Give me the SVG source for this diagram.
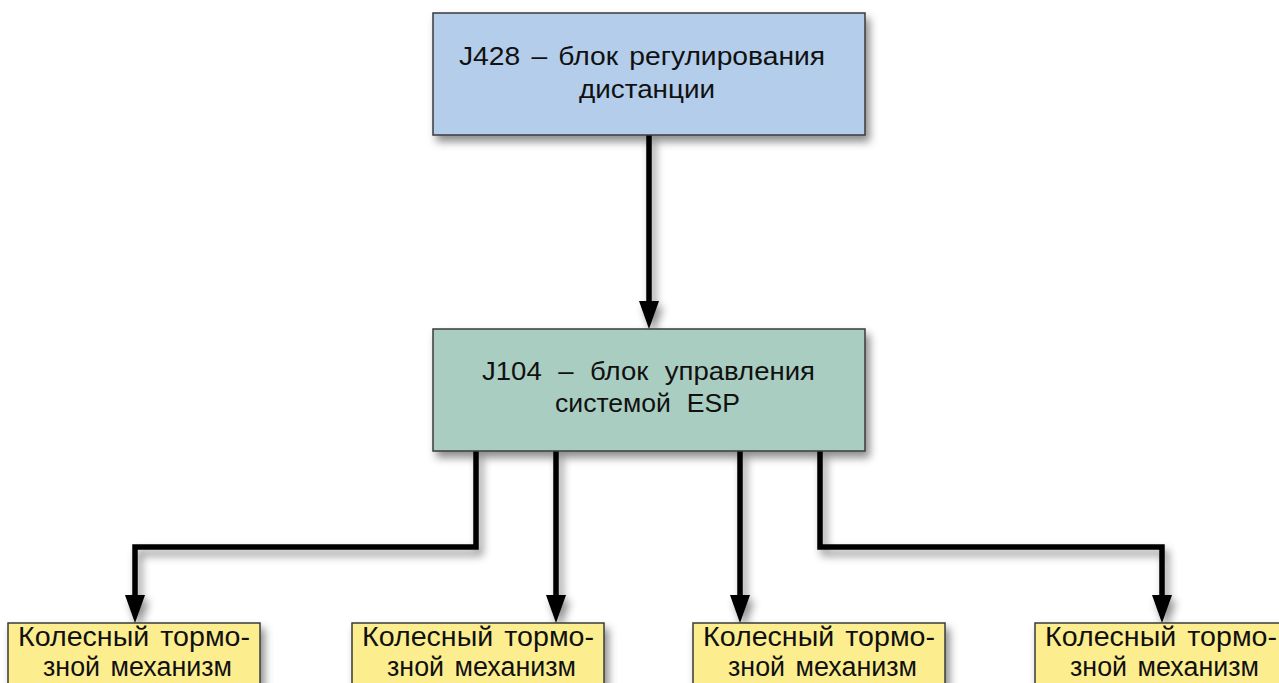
<svg xmlns="http://www.w3.org/2000/svg" width="1279" height="683" viewBox="0 0 1279 683">
<style>
.box{stroke:#3a3a3a;stroke-width:1.5}
.t{font-family:"Liberation Sans",Arial,sans-serif;fill:#111;word-spacing:3px}
.m{font-size:25px}
.b{font-size:27px}
.c{fill:none;stroke:#000;stroke-width:5.5;stroke-linejoin:miter}
</style>
<defs>
<filter id="sh" x="-10%" y="-10%" width="130%" height="140%">
<feDropShadow dx="4" dy="6" stdDeviation="4" flood-color="#000" flood-opacity="0.45"/>
</filter>
<marker id="ah" viewBox="0 0 28 20" refX="8" refY="10" markerWidth="28" markerHeight="20" markerUnits="userSpaceOnUse" orient="auto">
<path d="M0,0 L28,10 L0,20 z" fill="#000"/>
</marker>
</defs>
<rect width="1279" height="683" fill="#fff"/>
<g id="connectors" filter="url(#sh)">
<path class="c" d="M649,135 V309" marker-end="url(#ah)"/>
<path class="c" d="M476,451 V547 H135 V603" marker-end="url(#ah)"/>
<path class="c" d="M556,451 V603" marker-end="url(#ah)"/>
<path class="c" d="M740,451 V603" marker-end="url(#ah)"/>
<path class="c" d="M820,451 V547 H1162 V603" marker-end="url(#ah)"/>
</g>
<g id="j428">
<rect class="box" x="433" y="13" width="432" height="122" fill="#b3cdea" filter="url(#sh)"/>
<text class="t m" x="459" y="65" textLength="366" lengthAdjust="spacingAndGlyphs">J428 – блок регулирования</text>
<text class="t m" x="579" y="98" textLength="136" lengthAdjust="spacingAndGlyphs">дистанции</text>
</g>
<g id="j104">
<rect class="box" x="433" y="329" width="432" height="122" fill="#aacdc2" filter="url(#sh)"/>
<text class="t m" x="482" y="380" textLength="333" lengthAdjust="spacingAndGlyphs" style="word-spacing:8px">J104 – блок управления</text>
<text class="t m" x="555" y="412" textLength="185" lengthAdjust="spacingAndGlyphs" style="word-spacing:8px">системой ESP</text>
</g>
<g id="brake1">
<rect class="box" x="8" y="623" width="252" height="70" fill="#fcee8f" filter="url(#sh)"/>
<text class="t b" x="18" y="646" textLength="232" lengthAdjust="spacingAndGlyphs">Колесный тормо-</text>
<text class="t b" x="43" y="676" textLength="189" lengthAdjust="spacingAndGlyphs">зной механизм</text>
</g>
<g id="brake2">
<rect class="box" x="352" y="623" width="252" height="70" fill="#fcee8f" filter="url(#sh)"/>
<text class="t b" x="362" y="646" textLength="232" lengthAdjust="spacingAndGlyphs">Колесный тормо-</text>
<text class="t b" x="387" y="676" textLength="189" lengthAdjust="spacingAndGlyphs">зной механизм</text>
</g>
<g id="brake3">
<rect class="box" x="693" y="623" width="252" height="70" fill="#fcee8f" filter="url(#sh)"/>
<text class="t b" x="703" y="646" textLength="232" lengthAdjust="spacingAndGlyphs">Колесный тормо-</text>
<text class="t b" x="728" y="676" textLength="189" lengthAdjust="spacingAndGlyphs">зной механизм</text>
</g>
<g id="brake4">
<rect class="box" x="1035" y="623" width="252" height="70" fill="#fcee8f" filter="url(#sh)"/>
<text class="t b" x="1045" y="646" textLength="232" lengthAdjust="spacingAndGlyphs">Колесный тормо-</text>
<text class="t b" x="1070" y="676" textLength="189" lengthAdjust="spacingAndGlyphs">зной механизм</text>
</g>
</svg>
